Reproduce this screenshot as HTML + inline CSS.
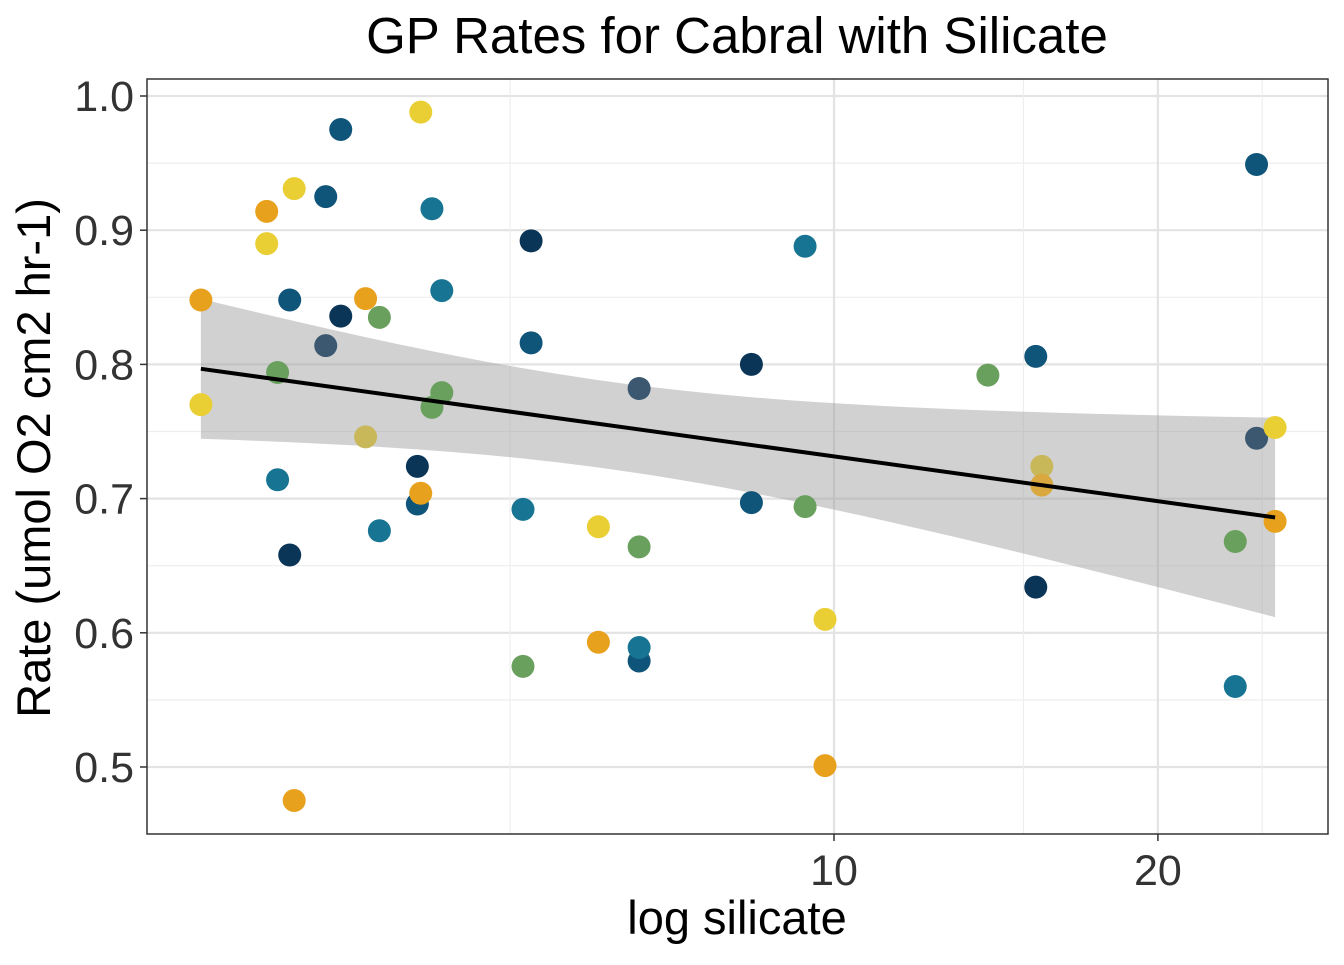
<!DOCTYPE html>
<html><head><meta charset="utf-8"><style>
body{margin:0;background:#fff;}
svg text{font-family:"Liberation Sans",Arial,sans-serif;}
</style></head><body>
<svg id="chart" width="1344" height="960" xmlns="http://www.w3.org/2000/svg">
<rect width="1344" height="960" fill="#fff"/>
<text x="737" y="53" font-size="51" text-anchor="middle" fill="#000">GP Rates for Cabral with Silicate</text>
<g id="grid"></g>
<g id="band"></g>
<g id="points"></g>
<g id="fit"></g>
<rect x="147" y="79" width="1181" height="755" fill="none" stroke="#333" stroke-width="1.5"/>
<g id="axes"></g>
<text x="737" y="934" font-size="47" text-anchor="middle" fill="#000">log silicate</text>
<text transform="translate(50,458) rotate(-90)" font-size="47" text-anchor="middle" fill="#000">Rate (umol O2 cm2 hr-1)</text>
</svg>
<script>
const silicate=[2.58,2.58,2.97,2.97,3.04,3.04,3.12,3.12,3.15,3.15,3.37,3.37,3.48,3.48,3.67,3.67,3.78,3.78,4.10,4.10,4.13,4.13,4.23,4.23,4.32,4.32,5.14,5.14,5.23,5.23,6.04,6.04,6.59,6.59,6.59,6.59,8.38,8.38,9.40,9.40,9.81,9.81,13.9,15.4,15.4,15.6,15.6,23.6,23.6,24.7,24.7,25.7,25.7];
const rate=[0.848,0.770,0.914,0.890,0.794,0.714,0.848,0.658,0.931,0.475,0.925,0.814,0.975,0.836,0.849,0.746,0.835,0.676,0.696,0.724,0.988,0.704,0.916,0.768,0.855,0.779,0.692,0.575,0.892,0.816,0.679,0.593,0.782,0.664,0.579,0.589,0.800,0.697,0.888,0.694,0.610,0.501,0.792,0.806,0.634,0.724,0.710,0.668,0.560,0.949,0.745,0.753,0.683];
const colorIdx=[5,4,5,4,3,2,1,0,4,5,1,6,1,0,5,7,3,2,1,0,4,5,2,3,2,3,2,3,0,1,4,5,6,3,1,2,0,1,2,3,4,5,3,1,0,7,8,3,2,1,6,4,5];
const palette=["#0b3557","#0f5479","#177593","#6aa05e","#e9cf33","#e8a11d","#3b5870","#c8b85a","#d9a83f"];
const yTicks=[0.5,0.6,0.7,0.8,0.9,1.0];
const xTicks=[10,20];
const xMinor=[5,15,25];
const X=v=>834+(Math.log10(v)-1)*1076;
const Y=v=>96+(1-v)*1342;
const NS="http://www.w3.org/2000/svg";
function mk(parent,tag,attrs){const e=document.createElementNS(NS,tag);for(const k in attrs)e.setAttribute(k,attrs[k]);document.getElementById(parent).appendChild(e);return e;}
yTicks.forEach(t=>{const l=mk('grid','line',{x1:147,x2:1328,y1:Y(t),y2:Y(t),stroke:'#e3e3e3','stroke-width':2.2});
});
for(let i=0;i<yTicks.length-1;i++){const m=(yTicks[i]+yTicks[i+1])/2;const l=mk('grid','line',{x1:147,x2:1328,y1:Y(m),y2:Y(m),stroke:'#eeeeee','stroke-width':1.2});
}
xTicks.forEach(t=>{const l=mk('grid','line',{x1:X(t),x2:X(t),y1:79,y2:834,stroke:'#e3e3e3','stroke-width':2.2});
});
xMinor.forEach(t=>{const l=mk('grid','line',{x1:X(t),x2:X(t),y1:79,y2:834,stroke:'#eeeeee','stroke-width':1.2});
});
yTicks.forEach(t=>{const l=mk('axes','line',{x1:140,x2:147,y1:Y(t),y2:Y(t),stroke:'#333','stroke-width':1.5});

const tx=mk('axes','text',{x:134,y:Y(t)+15,'font-size':43,'text-anchor':'end',fill:'#333'});tx.textContent=t.toFixed(1);
});
xTicks.forEach(t=>{const l=mk('axes','line',{x1:X(t),x2:X(t),y1:834,y2:841,stroke:'#333','stroke-width':1.5});

const tx=mk('axes','text',{x:X(t),y:885,'font-size':43,'text-anchor':'middle',fill:'#333'});tx.textContent=t;
});
const lx=silicate.map(Math.log10),n=lx.length;
const mx=lx.reduce((a,b)=>a+b)/n,my=rate.reduce((a,b)=>a+b)/n;
let sxx=0,sxy=0;lx.forEach((v,i)=>{sxx+=(v-mx)**2;sxy+=(v-mx)*(rate[i]-my);});
const b=sxy/sxx,a=my-b*mx;
let sse=0;lx.forEach((v,i)=>{sse+=(rate[i]-a-b*v)**2;});
const s=Math.sqrt(sse/(n-2)),tc=2.008;
const x0=Math.min(...lx),x1=Math.max(...lx);
const up=[],lo=[];
for(let k=0;k<=60;k++){const v=x0+(x1-x0)*k/60;const f=a+b*v;const se=s*Math.sqrt(1/n+(v-mx)**2/sxx);
const px=834+(v-1)*1076;up.push(px+','+Y(f+tc*se));lo.unshift(px+','+Y(f-tc*se));}
const band=mk('band','polygon',{points:up.concat(lo).join(' '),fill:'#999','fill-opacity':0.45});

silicate.forEach((v,i)=>{const c=mk('points','circle',{cx:X(v),cy:Y(rate[i]),r:11.5,fill:palette[colorIdx[i]]});
});
const fl=mk('fit','line',{x1:834+(x0-1)*1076,y1:Y(a+b*x0),x2:834+(x1-1)*1076,y2:Y(a+b*x1),stroke:'#000','stroke-width':4});

</script>
</body></html>
